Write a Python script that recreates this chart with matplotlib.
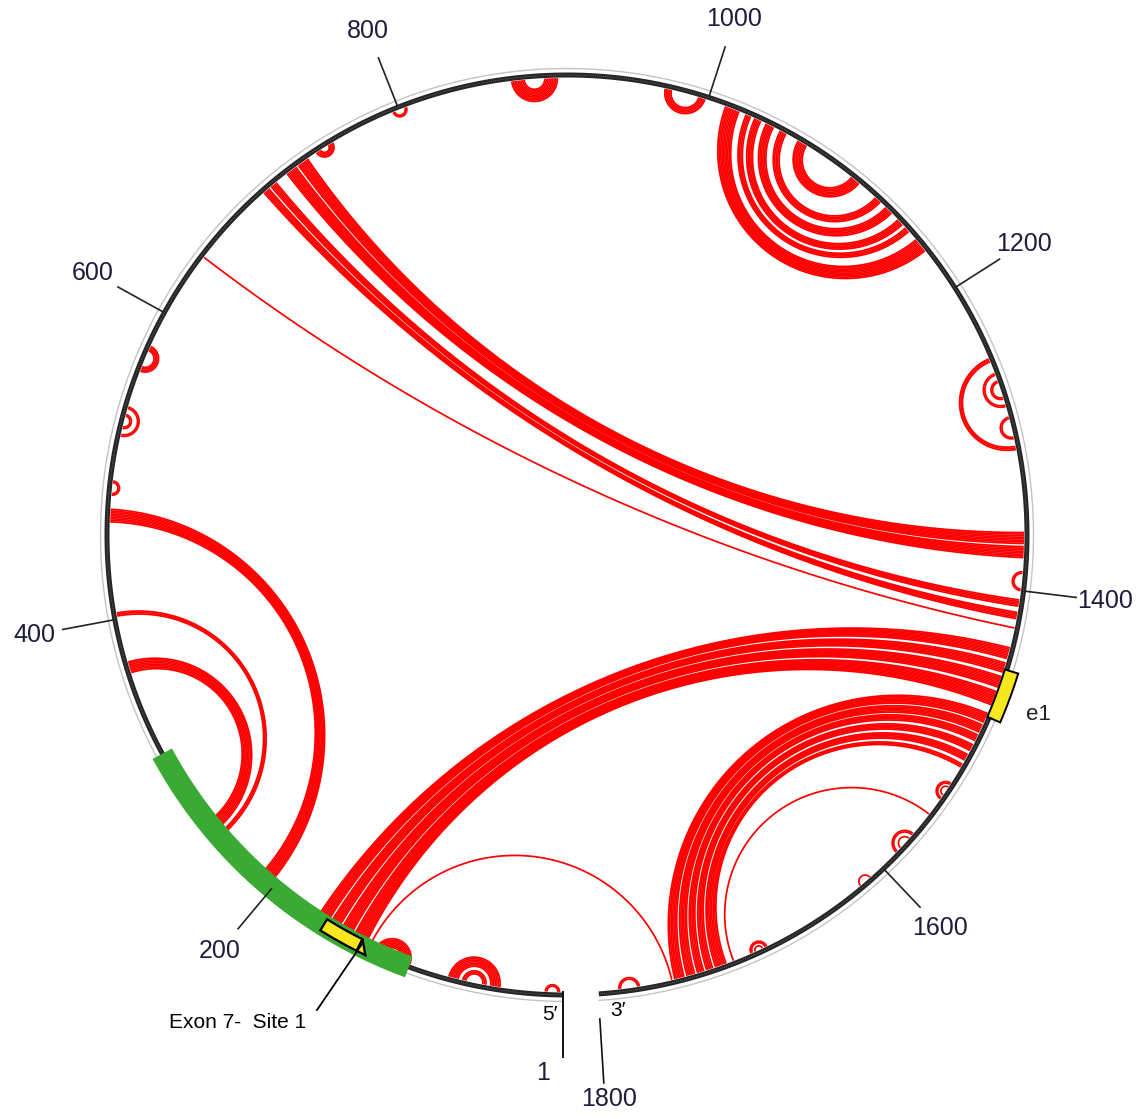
import numpy as np
import matplotlib
matplotlib.use("Agg")
import matplotlib.pyplot as plt
from matplotlib.collections import LineCollection
from matplotlib.patches import Polygon

# ---------------- data ----------------
seq_length = 1800
tick_positions = [200, 400, 600, 800, 1000, 1200, 1400, 1600]
tick_labels = ["200", "400", "600", "800", "1000", "1200", "1400", "1600"]

# helices: pairs (i+k, j-k) for k in range(n)
helix_i = [3, 41, 50, 100, 128, 131, 142, 151, 159, 203, 246, 251, 479, 517, 522,
           560, 643, 699, 705, 718, 727, 741, 796, 874, 972, 1012, 1026, 1032,
           1040, 1050, 1063, 1250, 1260, 1265, 1289, 1388, 1481, 1489, 1496, 1503,
           1510, 1517, 1531, 1534, 1555, 1571, 1575, 1610, 1689, 1692, 1774]
helix_j = [12, 74, 65, 124, 1753, 1475, 1463, 1453, 1444, 470, 404, 372, 488, 536, 531,
           577, 1424, 1418, 1410, 1379, 1370, 753, 805, 903, 998, 1170, 1154, 1148,
           1138, 1128, 1110, 1310, 1282, 1277, 1303, 1400, 1751, 1743, 1736, 1730,
           1724, 1719, 1543, 1540, 1712, 1587, 1583, 1618, 1700, 1697, 1787]
helix_n = [2, 7, 3, 7, 1, 10, 8, 7, 8, 9, 3, 8, 2, 2, 2,
           4, 1, 5, 5, 8, 8, 4, 2, 9, 5, 10, 4, 5,
           6, 5, 7, 3, 2, 2, 2, 2, 7, 6, 5, 5,
           5, 3, 2, 1, 1, 2, 1, 1, 2, 1, 2]

exon7_region = (100, 310)      # green annotation
site1_region = (134, 160)      # yellow box "Exon 7- Site 1"
site1_arrow = (128, 134)
e1_region = (1451, 1483)       # yellow box "e1"

# ---------------- layout ----------------
W, H = 1138, 1119
CX, CY = 567.0, 535.0
R = 460.0            # ring radius
R_ARC = 457.0        # arcs end here
DEG0, DEG_PER_NT = 0.55, 0.1976


def theta(p):
    return np.radians(DEG0 + (np.asarray(p, dtype=float) - 1) * DEG_PER_NT)


def to_xy(t, r):
    return CX - r * np.sin(t), CY + r * np.cos(t)


def geodesic(t1, t2, n=160):
    P = np.array([-np.sin(t1), np.cos(t1)])
    Q = np.array([-np.sin(t2), np.cos(t2)])
    d = (t2 - t1) % (2 * np.pi)
    if d > np.pi:
        d = 2 * np.pi - d
    if abs(np.pi - d) < 1e-3:
        s = np.linspace(0, 1, n)
        pts = P[None, :] * (1 - s[:, None]) + Q[None, :] * s[:, None]
        return pts[:, 0], pts[:, 1]
    M = P + Q
    M = M / np.linalg.norm(M)
    C = M / np.cos(d / 2)
    r = np.tan(d / 2)
    a1 = np.arctan2(P[1] - C[1], P[0] - C[0])
    a2 = np.arctan2(Q[1] - C[1], Q[0] - C[0])
    da = (a2 - a1 + np.pi) % (2 * np.pi) - np.pi
    ang = a1 + np.linspace(0, da, n)
    return C[0] + r * np.cos(ang), C[1] + r * np.sin(ang)


fig = plt.figure(figsize=(W / 100, H / 100), dpi=100)
ax = fig.add_axes([0, 0, 1, 1])
ax.set_xlim(0, W)
ax.set_ylim(H, 0)
ax.axis("off")

# ---- arcs ----
segs = []
for i0, j0, n in zip(helix_i, helix_j, helix_n):
    for k in range(n):
        ux, uy = geodesic(theta(i0 + k), theta(j0 - k))
        segs.append(np.column_stack([CX + R_ARC * ux, CY + R_ARC * uy]))
ax.add_collection(LineCollection(segs, colors="#ff0000", linewidths=1.25, zorder=3))

# ---- ring (sequence backbone) ----
tt = np.linspace(theta(1), theta(seq_length), 1500)
x, y = to_xy(tt, R + 6.5)
ax.plot(x, y, color="#c4c4c4", lw=1.0, zorder=2)
x, y = to_xy(tt, R)
ax.plot(x, y, color="#262626", lw=3.6, solid_capstyle="butt", zorder=4)
ax.plot(x, y, color="white", lw=0.5, dashes=(0.8, 2.2), alpha=0.6, zorder=4)


def sector(p0, p1, r0, r1, **kw):
    t = np.linspace(theta(p0), theta(p1), 80)
    xo, yo = to_xy(t, r1)
    xi, yi = to_xy(t[::-1], r0)
    poly = Polygon(np.column_stack([np.r_[xo, xi], np.r_[yo, yi]]), closed=True, **kw)
    ax.add_patch(poly)


# green exon 7 band
sector(exon7_region[0], exon7_region[1], R - 11, R + 11, facecolor="#3aaa35",
       edgecolor="none", zorder=5)
# yellow site 1 box
sector(site1_region[0], site1_region[1], R - 7, R + 6, facecolor="#f6e71f",
       edgecolor="black", lw=1.6, zorder=6)
# small arrow-tip triangle
ta, tb = theta(site1_arrow[0]), theta(site1_arrow[1])
p1 = to_xy(tb, R - 7)
p2 = to_xy(tb, R + 6)
p3 = to_xy(ta, R + 6)
ax.add_patch(Polygon([p1, p2, p3], closed=True, facecolor="#f6e71f",
                     edgecolor="black", lw=1.6, zorder=6))
# e1 box
sector(e1_region[0], e1_region[1], R - 2, R + 12, facecolor="#f6e71f",
       edgecolor="black", lw=1.4, zorder=6)

# ---- numbered ticks ----
lab_font = dict(family=["Liberation Sans", "DejaVu Sans"], fontsize=18, color="#1e1e3c")
for p, lab in zip(tick_positions, tick_labels):
    t = theta(p)
    x0, y0 = to_xy(t, R + 1)
    x1, y1 = to_xy(t, R + 53)
    ax.plot([x0, x1], [y0, y1], color="#222222", lw=1.2, zorder=5)
    lx, ly = to_xy(t, R + 82)
    ax.text(lx, ly, lab, ha="center", va="center", zorder=7, **lab_font)

# 5' / 3' ends
t1 = theta(1)
x0, y0 = to_xy(t1, R)
ax.plot([x0, x0], [y0 - 3, y0 + 62], color="#111111", lw=1.4, zorder=5)
ax.text(x0 - 20, y0 + 78, "1", ha="center", va="center", zorder=7, **lab_font)
ax.text(x0 - 13, y0 + 20, "5\u2032", ha="center", va="center", fontsize=15,
        family=["Liberation Sans", "DejaVu Sans"], color="black")
tN = theta(seq_length)
xN, yN = to_xy(tN, R)
ax.plot([xN + 1, xN + 5], [yN + 25, yN + 89], color="#111111", lw=1.2, zorder=5)
ax.text(xN + 10, yN + 105, "1800", ha="center", va="center", zorder=7, **lab_font)
ax.text(xN + 19, yN + 17, "3\u2032", ha="center", va="center", fontsize=15,
        family=["Liberation Sans", "DejaVu Sans"], color="black")

# annotation labels
ts = theta(np.mean(site1_arrow) + 2)
xs, ys = to_xy(ts, R - 2)
ax.plot([xs, 317], [ys, 1010], color="black", lw=1.3, zorder=7)
ax.text(238, 1022, "Exon 7-  Site 1", ha="center", va="center", fontsize=15,
        family=["Liberation Sans", "DejaVu Sans"], color="black")
te = theta(np.mean(e1_region))
xe, ye = to_xy(te, R + 42)
ax.text(xe, ye + 6, "e1", ha="center", va="center", fontsize=16,
        family=["Liberation Sans", "DejaVu Sans"], color="#222222")

fig.savefig("out.png", dpi=100)
